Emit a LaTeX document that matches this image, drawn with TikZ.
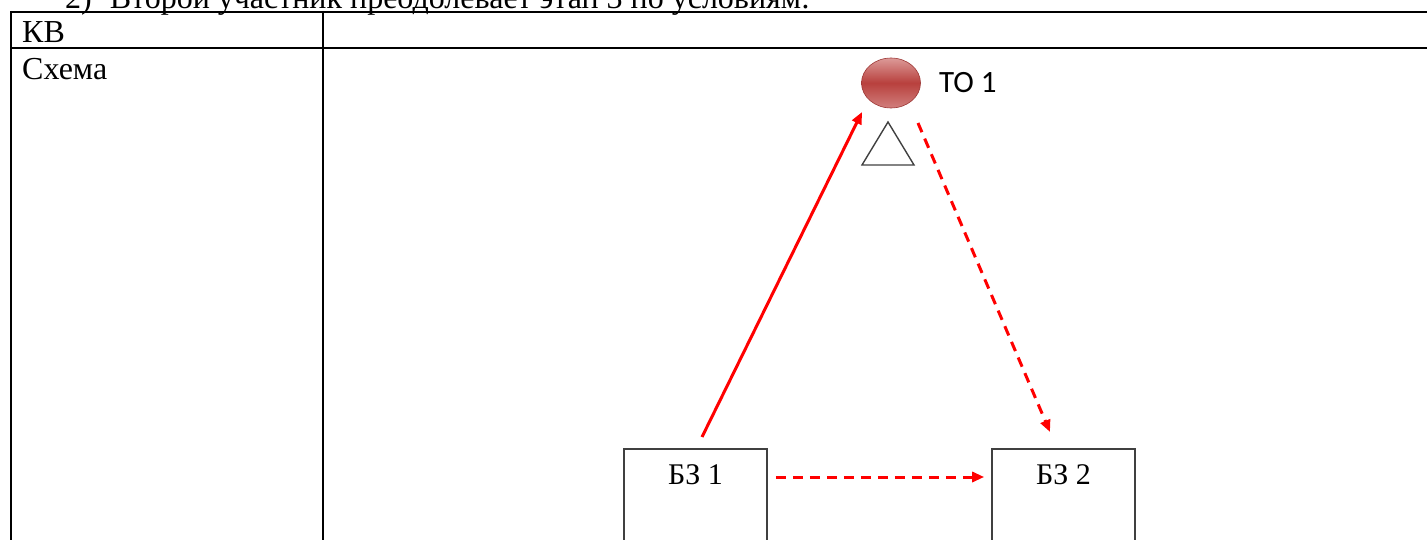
\documentclass[tikz,border=0pt]{standalone}
\usepackage{fontspec}
\setmainfont{Liberation Serif}
\newfontfamily\calibri{Carlito}
\usetikzlibrary{calc,arrows.meta,positioning,shapes.geometric}

\definecolor{redD}{HTML}{B8403D}
\definecolor{redL}{HTML}{DC9A98}
\definecolor{boxgray}{HTML}{404040}

\tikzset{
    tline/.style={line width=2.4pt,black},
    cell/.style={anchor=base west,inner sep=0pt,font=\fontsize{32}{36}\selectfont},
    box/.style={draw=boxgray,line width=1.6pt,anchor=north,minimum width=143pt,minimum height=110pt,inner sep=0pt},
    boxtext/.style={inner sep=0pt,anchor=base,font=\fontsize{30}{34}\selectfont},
    redarrow/.style={red,line width=3pt,-{Triangle[length=12pt,width=10pt]}},
    dasharrow/.style={redarrow,dash pattern=on 10pt off 7pt}
}

\begin{document}
\begin{tikzpicture}[x=1pt,y=-1pt]
    \useasboundingbox (0,0) rectangle (1427,540);
    \clip (0,0) rectangle (1427,540);
    % table
    \node[cell] (head) at (65,9) {2)\hspace{18pt}Второй участник преодолевает этап 3 по условиям:};
    \draw[tline] (11,12) -- (1440,12);
    \draw[tline] (11,48) -- (1440,48);
    \draw[tline] (11,11) -- (11,560);
    \draw[tline] (323,11) -- (323,560);
    \node[cell] (kv) at (22,43) {КВ};
    \node[cell] (sxema) at (22,80) {Схема};
    % scheme
    \node[ellipse,minimum width=59pt,minimum height=50pt,inner sep=0pt,draw=redD!85!black,line width=0.6pt,
          top color=redL,bottom color=redL!70!redD,middle color=redD] (to1) at (891,83) {};
    \node[right=18pt of to1,inner sep=0pt,font=\calibri\fontsize{31}{34}\selectfont] (to1t) {ТО 1};
    \coordinate (tA) at (888,122);
    \coordinate (tB) at (862,165);
    \coordinate (tC) at (914,165);
    \draw[boxgray,line width=1.4pt,line join=miter] (tA) -- (tB) -- (tC) -- cycle;
    \node[box] (bz1) at (695.5,448) {};
    \node[box] (bz2) at (1063.5,448) {};
    \node[boxtext] (bz1t) at ([shift={(0,36)}]bz1.north) {БЗ 1};
    \node[boxtext] (bz2t) at ([shift={(0,36)}]bz2.north) {БЗ 2};
    % arrows
    \draw[redarrow] ([shift={(6.5,-11)}]bz1.north) -- ([shift={(-29,29)}]to1.center);
    \draw[dasharrow] ([shift={(27,40)}]to1.center) -- ([shift={(-13.5,-16)}]bz2.north);
    \draw[dasharrow] ([shift={(8,29)}]bz1.north east) -- ([shift={(-7,29)}]bz2.north west);
\end{tikzpicture}
\end{document}
